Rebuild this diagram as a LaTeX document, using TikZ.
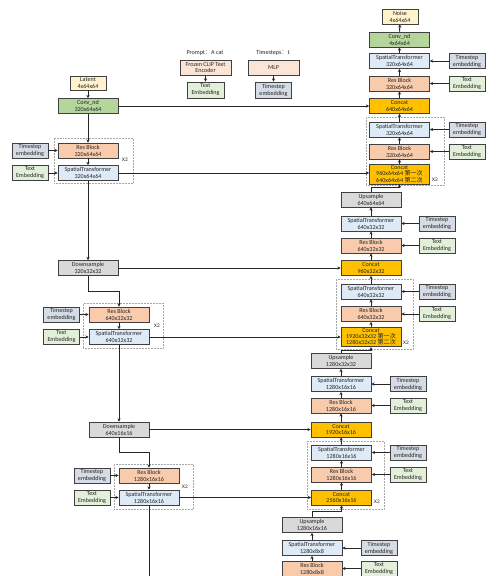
\documentclass[tikz,border=0pt]{standalone}
\usepackage{fontspec}
\setmainfont{Carlito}
\newfontfamily\cjk{Noto Sans CJK SC}
\usetikzlibrary{arrows.meta}
\definecolor{bd}{HTML}{404040}
\definecolor{txt}{HTML}{262626}
\definecolor{lc}{HTML}{262626}
\definecolor{latc}{HTML}{FFF2CC}
\definecolor{convc}{HTML}{B4D69C}
\definecolor{resc}{HTML}{F8CBAD}
\definecolor{stc}{HTML}{DEEBF7}
\definecolor{tsc}{HTML}{D6DCE5}
\definecolor{txc}{HTML}{E2F0D9}
\definecolor{encc}{HTML}{FBE5D6}
\definecolor{catc}{HTML}{FFC000}
\definecolor{grayc}{HTML}{D9D9D9}
\newcommand\fsmain{\fontsize{6.1}{6.9}\selectfont}
\newcommand\fscat{\fontsize{6.1}{6.2}\selectfont}
\newcommand\fsx{\fontsize{5.4}{6}\selectfont}
\newcommand\zhtxt[1]{{\cjk #1}}
\tikzset{
  box/.style={draw=bd, line width=0.8pt, minimum height=15pt, inner sep=0pt, align=center, font=\fsmain, text=txt},
  main/.style={box, minimum width=60pt},
  emb/.style={box, minimum width=36pt},
  resb/.style={main, fill=resc},
  stb/.style={main, fill=stc},
  catb/.style={main, fill=catc},
  catbig/.style={main, fill=catc, minimum height=19.5pt, font=\fscat},
  sampb/.style={main, fill=grayc},
  convb/.style={main, fill=convc},
  tsb/.style={emb, fill=tsc},
  txb/.style={emb, fill=txc},
  latb/.style={emb, fill=latc},
  encb/.style={box, minimum width=51pt, fill=encc},
  grp/.style={draw=gray!70, densely dotted, line width=0.5pt, inner sep=0pt},
  conn/.style={draw=lc, line width=1pt, -{Stealth[length=3.2pt,width=3.2pt]}},
  link/.style={draw=lc, line width=1pt},
  xtwo/.style={font=\fsx, text=txt, inner sep=0pt},
  lbl/.style={font=\fsmain, text=txt, inner sep=0pt}
}
\begin{document}
\begin{tikzpicture}[x=1pt,y=-1pt]
\useasboundingbox (0,0) rectangle (500,576);
\clip (0,0) rectangle (500,576);
\fill[white] (0,0) rectangle (500,576);

% group frames
\node[grp, minimum width=79pt, minimum height=45pt] (gL1) at (93.5,160.5) {};
\node[grp, minimum width=80pt, minimum height=45pt] (gL2) at (123,325.5) {};
\node[grp, minimum width=79pt, minimum height=45pt] (gL3) at (153.5,486.5) {};
\node[grp, minimum width=78pt, minimum height=68pt] (gR1) at (405,151) {};
\node[grp, minimum width=77pt, minimum height=70pt] (gR2) at (374.5,314) {};
\node[grp, minimum width=77pt, minimum height=68pt] (gR3) at (345.5,475) {};
\node[xtwo] (xL1) at (125,160) {X2};
\node[xtwo] (xL2) at (157,326) {X2};
\node[xtwo] (xL3) at (185,487) {X2};
\node[xtwo] (xR1) at (435,180) {X2};
\node[xtwo] (xR2) at (406,343) {X2};
\node[xtwo] (xR3) at (377,502) {X2};

% top middle
\node[lbl] (prompt) at (205,53) {Prompt\zhtxt{：}A cat};
\node[encb] (clip) at (205.5,67.5) {Frozen CLIP Text\\Encoder};
\node[txb, minimum width=37pt, minimum height=16pt] (txT) at (205.5,90) {Text\\Embedding};
\node[lbl] (tlabel) at (273,53) {Timesteps\zhtxt{：}t};
\node[encb] (mlp) at (273.5,67.5) {MLP};
\node[tsb, minimum height=16pt] (tsT) at (273.5,90) {Timestep\\embedding};
\draw[conn] (clip) -- (txT);
\draw[conn] (mlp) -- (tsT);

% left (encoder)
\node[latb, minimum height=14pt] (lat) at (88,83) {Latent\\4x64x64};
\node[convb] (convL) at (88,106) {Conv\_nd\\320x64x64};
\node[resb] (resL1) at (88,150.5) {Res Block\\320x64x64};
\node[stb] (stL1) at (88,173) {SpatialTransformer\\320x64x64};
\node[tsb] (tsL1) at (30,150.5) {Timestep\\embedding};
\node[txb] (txL1) at (30,173) {Text\\Embedding};
\node[sampb] (dsL1) at (88,268) {Downsample\\320x32x32};
\node[resb] (resL2) at (119,314.5) {Res Block\\640x32x32};
\node[stb] (stL2) at (119,337) {SpatialTransformer\\640x32x32};
\node[tsb] (tsL2) at (61.5,314.5) {Timestep\\embedding};
\node[txb] (txL2) at (61.5,337) {Text\\Embedding};
\node[sampb] (dsL2) at (119,429.5) {Downsample\\640x16x16};
\node[resb] (resL3) at (149,475.5) {Res Block\\1280x16x16};
\node[stb] (stL3) at (149,497.5) {SpatialTransformer\\1280x16x16};
\node[tsb] (tsL3) at (92,475.5) {Timestep\\embedding};
\node[txb] (txL3) at (92,497.5) {Text\\Embedding};
\coordinate (bot) at (149,580);

\draw[conn] (lat) -- (convL);
\draw[conn] (convL) -- (resL1);
\draw[conn] (resL1) -- (stL1);
\draw[conn] (tsL1) -- (resL1);
\draw[conn] (txL1) -- (stL1);
\draw[conn] (stL1) -- (dsL1);
\draw[conn] (dsL1.south) -- ++(0,16) -| (resL2.north);
\draw[conn] (resL2) -- (stL2);
\draw[conn] (tsL2) -- (resL2);
\draw[conn] (txL2) -- (stL2);
\draw[conn] (stL2) -- (dsL2);
\draw[conn] (dsL2.south) -- ++(0,15) -| (resL3.north);
\draw[conn] (resL3) -- (stL3);
\draw[conn] (tsL3) -- (resL3);
\draw[conn] (txL3) -- (stL3);
\draw[link] (stL3) -- (bot);

% right (decoder)
\node[latb] (noise) at (400,16.5) {Noise\\4x64x64};
\node[convb] (convR) at (399.5,39.5) {Conv\_nd\\4x64x64};
\node[stb] (stR1) at (399.5,61) {SpatialTransformer\\320x64x64};
\node[resb] (resR1) at (399.5,83.5) {Res Block\\320x64x64};
\node[catb] (catR1) at (399.5,106) {Concat\\640x64x64};
\node[tsb] (tsR1) at (467,61) {Timestep\\embedding};
\node[txb] (txR1) at (467,83.5) {Text\\Embedding};
\node[stb] (stR2) at (399.5,129.5) {SpatialTransformer\\320x64x64};
\node[resb] (resR2) at (399.5,151.5) {Res Block\\320x64x64};
\node[catbig] (catR2) at (399.5,174.2) {Concat\\960x64x64 \zhtxt{第一次}\\640x64x64 \zhtxt{第二次}};
\node[tsb] (tsR2) at (467,129.5) {Timestep\\embedding};
\node[txb] (txR2) at (467,151.5) {Text\\Embedding};
\node[sampb] (upR1) at (371,199.5) {Upsample\\640x64x64};
\node[stb] (stR3) at (371,223.5) {SpatialTransformer\\640x32x32};
\node[resb] (resR3) at (371,245.5) {Res Block\\640x32x32};
\node[catb] (catR3) at (371,268) {Concat\\960x32x32};
\node[tsb] (tsR3) at (437,223.5) {Timestep\\embedding};
\node[txb] (txR3) at (437,245.5) {Text\\Embedding};
\node[stb] (stR4) at (371,291.5) {SpatialTransformer\\640x32x32};
\node[resb] (resR4) at (371,314) {Res Block\\640x32x32};
\node[catbig] (catR4) at (371,337) {Concat\\1920x32x32 \zhtxt{第一次}\\1280x32x32 \zhtxt{第二次}};
\node[tsb] (tsR4) at (437,291.5) {Timestep\\embedding};
\node[txb] (txR4) at (437,314) {Text\\Embedding};
\node[sampb] (upR2) at (341,361) {Upsample\\1280x32x32};
\node[stb] (stR5) at (341,384) {SpatialTransformer\\1280x16x16};
\node[resb] (resR5) at (341,405.5) {Res Block\\1280x16x16};
\node[catb] (catR5) at (341,429.5) {Concat\\1920x16x16};
\node[tsb] (tsR5) at (408,384) {Timestep\\embedding};
\node[txb] (txR5) at (408,405.5) {Text\\Embedding};
\node[stb] (stR6) at (341.5,452.5) {SpatialTransformer\\1280x16x16};
\node[resb] (resR6) at (341.5,474.5) {Res Block\\1280x16x16};
\node[catb] (catR6) at (341.5,497.5) {Concat\\2560x16x16};
\node[tsb] (tsR6) at (408,452.5) {Timestep\\embedding};
\node[txb] (txR6) at (408,474.5) {Text\\Embedding};
\node[sampb] (upR3) at (312,525) {Upsample\\1280x16x16};
\node[stb] (stR7) at (312,548) {SpatialTransformer\\1280x8x8};
\node[resb] (resR7) at (312,568.5) {Res Block\\1280x8x8};
\node[tsb] (tsR7) at (379,548) {Timestep\\embedding};
\node[txb] (txR7) at (379,568.5) {Text\\Embedding};

\draw[conn] (convR) -- (noise);
\draw[conn] (stR1) -- (convR);
\draw[conn] (resR1) -- (stR1);
\draw[conn] (catR1) -- (resR1);
\draw[conn] (stR2) -- (catR1);
\draw[conn] (resR2) -- (stR2);
\draw[conn] (catR2) -- (resR2);
\draw[conn] (upR1.north) -- ++(0,-4) -| (catR2.south);
\draw[conn] (stR3) -- (upR1);
\draw[conn] (resR3) -- (stR3);
\draw[conn] (catR3) -- (resR3);
\draw[conn] (stR4) -- (catR3);
\draw[conn] (resR4) -- (stR4);
\draw[conn] (catR4) -- (resR4);
\draw[conn] (upR2.north) -- ++(0,-3) -| (catR4.south);
\draw[conn] (stR5) -- (upR2);
\draw[conn] (resR5) -- (stR5);
\draw[conn] (catR5) -- (resR5);
\draw[conn] (stR6) -- (catR5);
\draw[conn] (resR6) -- (stR6);
\draw[conn] (catR6) -- (resR6);
\draw[conn] (upR3.north) -- ++(0,-6) -| (catR6.south);
\draw[conn] (stR7) -- (upR3);
\draw[conn] (resR7) -- (stR7);
\foreach \i in {1,...,7} {
  \draw[conn] (tsR\i) -- (stR\i);
  \draw[conn] (txR\i) -- (resR\i);
}

% skip connections
\draw[conn] (convL.east) -- (convL.east -| catR1.west);
\draw[conn] (stL1.east) -- (stL1.east -| catR2.west);
\draw[conn] (dsL1.east) -- (dsL1.east -| catR3.west);
\draw[conn] (stL2.east) -- (stL2.east -| catR4.west);
\draw[conn] (dsL2.east) -- (dsL2.east -| catR5.west);
\draw[conn] (stL3.east) -- (stL3.east -| catR6.west);
\end{tikzpicture}
\end{document}
